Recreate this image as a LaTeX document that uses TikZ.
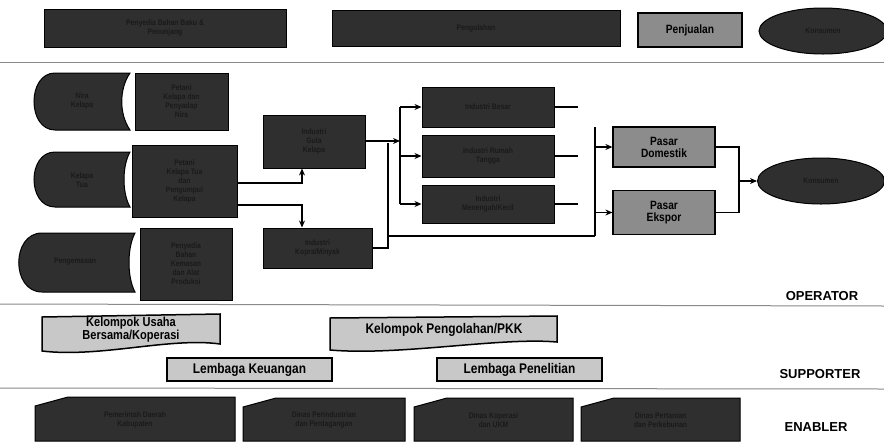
\documentclass[tikz,border=0pt]{standalone}
\usepackage{fontspec}
\setmainfont{Liberation Sans}
\newfontfamily\nar[FakeStretch=0.85]{Liberation Sans}
\usetikzlibrary{shapes.geometric,arrows.meta}
\definecolor{dk}{HTML}{2F2F2F}
\definecolor{dkt}{HTML}{1A1A1A}
\definecolor{md}{HTML}{8C8C8C}
\definecolor{lt}{HTML}{C8C8C8}
\definecolor{sep}{HTML}{8A8A8A}
\begin{document}
\begin{tikzpicture}[x=1pt,y=-1pt,
  dbox/.style={draw=black,line width=1pt,fill=dk,text=dkt,font=\nar\bfseries\fontsize{8}{9}\selectfont,align=center,inner sep=0pt},
  dshape/.style={draw=black,line width=1pt,fill=dk},
  dtext/.style={text=dkt,font=\nar\bfseries\fontsize{8}{9}\selectfont,align=center,inner sep=0pt},
  gbox/.style={draw=black,line width=1.2pt,fill=md,text=black,font=\nar\bfseries\fontsize{12}{12}\selectfont,align=center,inner sep=0pt},
  sbox/.style={draw=black,line width=1.5pt,fill=lt,text=black,font=\nar\bfseries\fontsize{14}{14}\selectfont,align=center,inner sep=0pt},
  sshape/.style={draw=black,line width=1.5pt,fill=lt},
  stext/.style={text=black,font=\nar\bfseries\fontsize{13}{13}\selectfont,align=center,inner sep=0pt},
  role/.style={font=\bfseries\fontsize{13}{13}\selectfont,inner sep=0pt},
  sepline/.style={draw=sep,line width=1pt},
  ln/.style={draw=black,line width=1.2pt},
  arr/.style={draw=black,line width=1.2pt,-{Stealth[length=7pt,width=6pt]}}]
\useasboundingbox (0,0) rectangle (884,445);
\fill[white] (0,0) rectangle (884,445);

% ---------- top row ----------
\node[dbox,minimum width=242,minimum height=38] (t1) at (165,28) {Penyedia Bahan Baku \&\\Penunjang};
\node[dbox,minimum width=288,minimum height=36] (t2) at (476,28) {Pengolahan};
\node[gbox,minimum width=104,minimum height=34] (t3) at (690,30) {Penjualan};
\node[dbox,ellipse,minimum width=128,minimum height=46] (t4) at (823,31) {Konsumen};

\draw[sepline] (0,62) -- (884,62);

% ---------- left tabs ----------
\path[dshape] (130,73) -- (55,73) .. controls (27,73) and (27,130) .. (55,130) -- (130,130)
  .. controls (119,114) and (119,89) .. (130,73) -- cycle;
\node[dtext] (L1) at (82,101) {Nira\\Kelapa};
\path[dshape] (130,152) -- (55,152) .. controls (27,152) and (27,207) .. (55,207) -- (130,207)
  .. controls (122,193) and (122,166) .. (130,152) -- cycle;
\node[dtext] (L2) at (82,180) {Kelapa\\Tua};
\path[dshape] (135,233) -- (42,233) .. controls (11,233) and (11,292) .. (42,292) -- (135,292)
  .. controls (127,277) and (127,248) .. (135,233) -- cycle;
\node[dtext] (L3) at (75,262) {Pengemasan};

\node[dbox,minimum width=93,minimum height=57] (R1) at (181.5,101.5) {Petani\\Kelapa dan\\Penyadap\\Nira};
\node[dbox,minimum width=105,minimum height=72] (R2) at (184.5,181) {Petani\\Kelapa Tua\\dan\\Pengumpul\\Kelapa};
\node[dbox,minimum width=92,minimum height=72] (R3) at (186,264) {Penyedia\\Bahan\\Kemasan\\dan Alat\\Produksi};

% ---------- processing ----------
\node[dbox,minimum width=102,minimum height=53] (A) at (314,141.5) {Industri\\Gula\\Kelapa};
\node[dbox,minimum width=109,minimum height=40] (B) at (317.5,248) {Industri\\Kopra/Minyak};
\node[dbox,minimum width=132,minimum height=40] (C) at (488,107) {Industri Besar};
\node[dbox,minimum width=132,minimum height=42] (D) at (488,156) {Industri Rumah\\Tangga};
\node[dbox,minimum width=132,minimum height=38] (E) at (488,204) {Industri\\Menengah/Kecil};

\draw[arr] (R2.east |- 0,183) -| ([xshift=-12pt]A.south);
\draw[arr] (R2.east |- 0,205) -| ([xshift=-15.5pt]B.north);

\coordinate (m1) at (400,141);
\coordinate (bt) at (400,107);
\coordinate (bb) at (400,204);
\draw[arr] (A.east |- m1) -- (m1);
\draw[ln] (bt) -- (bb);
\draw[arr] (bt) -- (C.west);
\draw[arr] (D.west -| bt) -- (D.west);
\draw[arr] (bb) -- (E.west);

\coordinate (bj) at (388,143);
\coordinate (bk) at (388,236);
\draw[ln] (B.east) -| (bj);

% ---------- markets ----------
\coordinate (b2t) at (595,127);
\coordinate (b2b) at (595,236);
\draw[ln] (C.east) -- (C.east -| 578,0);
\draw[ln] (D.east) -- (D.east -| 578,0);
\draw[ln] (E.east) -- (E.east -| 578,0);
\draw[ln] (b2t) -- (b2b);
\draw[ln] (bk) -- (b2b);

\node[gbox,minimum width=102,minimum height=40] (PD) at (664,147) {Pasar\\Domestik};
\node[gbox,minimum width=102,minimum height=44] (PE) at (664,212.5) {Pasar\\Ekspor};
\draw[arr] (PD.west -| b2t) -- (PD.west);
\draw[arr] (PE.west -| b2t) -- (PE.west);

\node[dbox,ellipse,minimum width=127,minimum height=46] (K) at (821,181) {Konsumen};
\coordinate (j2) at (739,181);
\draw[ln] (PD.east) -| (j2);
\draw[ln] (PE.east) -| (j2);
\draw[arr] (j2) -- (K.west);

\node[role] (op) at (822,296) {OPERATOR};
\draw[sepline] (0,304) -- (884,306);

% ---------- supporter ----------
\path[sshape] (42,317) -- (220,314) -- (220,344) .. controls (170,337) and (100,358) .. (42,351) -- cycle;
\node[stext] (S1) at (131,330) {Kelompok Usaha\\Bersama/Koperasi};
\path[sshape] (330,318) -- (557,316) -- (557,342) .. controls (500,337) and (400,356) .. (330,350) -- cycle;
\node[stext,font=\nar\bfseries\fontsize{14}{14}\selectfont] (S2) at (444,330) {Kelompok Pengolahan/PKK};
\node[sbox,minimum width=165,minimum height=23] (S3) at (249.5,369.5) {Lembaga Keuangan};
\node[sbox,minimum width=165,minimum height=23] (S4) at (519.5,369.5) {Lembaga Penelitian};
\node[role] (sp) at (820,374) {SUPPORTER};
\draw[sepline] (0,388) -- (884,389);

% ---------- enabler ----------
\path[dshape] (35,406) -- (68,397) -- (235,397) -- (235,441) -- (35,441) -- cycle;
\node[dtext] (E1) at (135,420) {Pemerintah Daerah\\Kabupaten};
\path[dshape] (243,407) -- (276,398) -- (405,398) -- (405,441) -- (243,441) -- cycle;
\node[dtext] (E2) at (324,420) {Dinas Perindustrian\\dan Perdagangan};
\path[dshape] (414,407) -- (447,398) -- (573,398) -- (573,441) -- (414,441) -- cycle;
\node[dtext] (E3) at (493.5,420) {Dinas Koperasi\\dan UKM};
\path[dshape] (581,407) -- (614,398) -- (740,398) -- (740,441) -- (581,441) -- cycle;
\node[dtext] (E4) at (660.5,420) {Dinas Pertanian\\dan Perkebunan};
\node[role] (en) at (816,427) {ENABLER};
\end{tikzpicture}
\end{document}
